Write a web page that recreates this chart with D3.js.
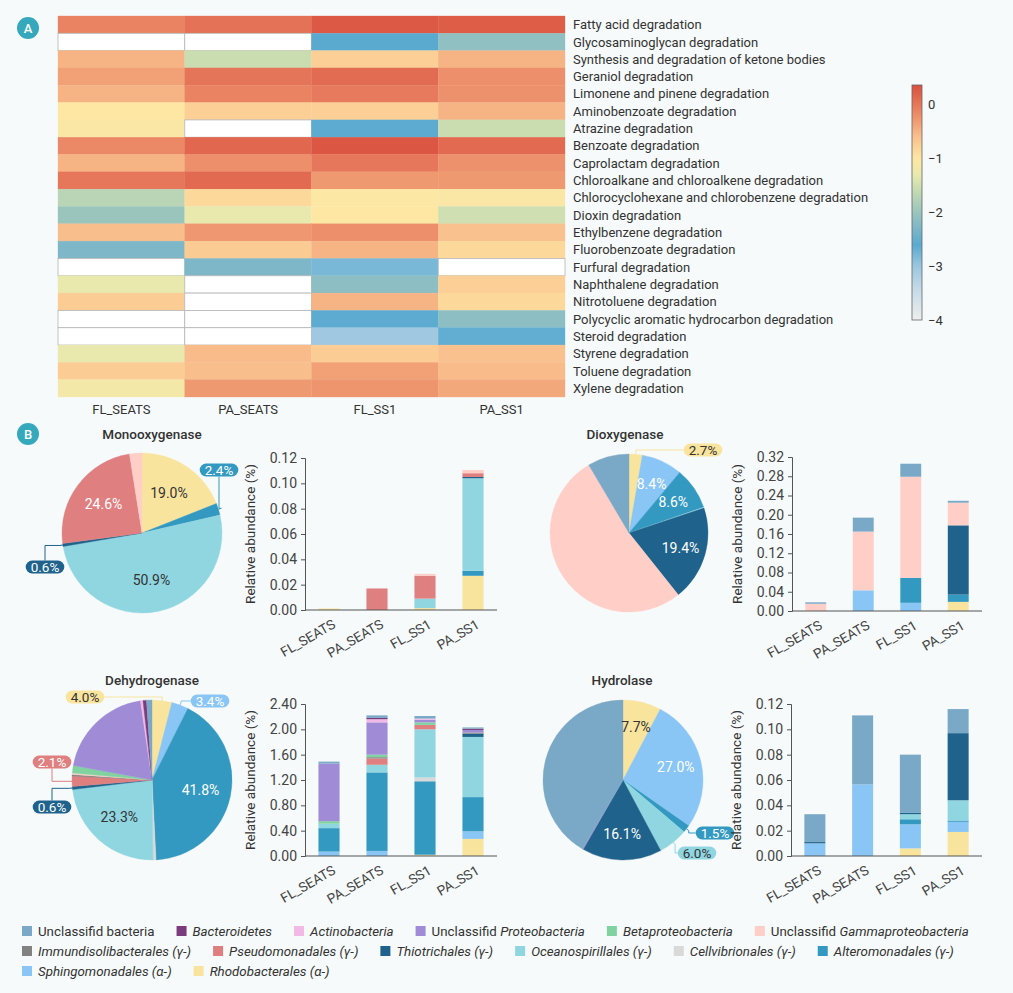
<!DOCTYPE html>
<html><head><meta charset="utf-8">
<script src="https://cdn.jsdelivr.net/npm/d3@7"></script>
<style>
html,body{margin:0;padding:0;background:#f6fafa;}
svg{display:block;font-family:Roboto,"Noto Sans",sans-serif;}
</style></head><body>
<svg id="c" width="1013" height="993"></svg>
<script>
// ---------------- DATA ----------------
const samples = ["FL_SEATS", "PA_SEATS", "FL_SS1", "PA_SS1"];
const pathways = [
  "Fatty acid degradation", "Glycosaminoglycan degradation", "Synthesis and degradation of ketone bodies",
  "Geraniol degradation", "Limonene and pinene degradation", "Aminobenzoate degradation",
  "Atrazine degradation", "Benzoate degradation", "Caprolactam degradation",
  "Chloroalkane and chloroalkene degradation", "Chlorocyclohexane and chlorobenzene degradation",
  "Dioxin degradation", "Ethylbenzene degradation", "Fluorobenzoate degradation",
  "Furfural degradation", "Naphthalene degradation", "Nitrotoluene degradation",
  "Polycyclic aromatic hydrocarbon degradation", "Steroid degradation", "Styrene degradation",
  "Toluene degradation", "Xylene degradation"
];
// log10 relative abundance per sample (null = not detected)
const heatFL_SEATS = [-0.1, null, -0.5, -0.35, -0.5, -1.0, -1.05, -0.15, -0.5, 0.0, -1.7, -2.0, -0.58, -2.3, null, -1.3, -0.72, null, null, -1.3, -0.72, -1.15];
const heatPA_SEATS = [0.05, null, -1.55, 0.02, -0.1, -0.75, null, 0.15, -0.2, 0.12, -0.85, -1.3, -0.27, -0.7, -2.3, null, null, null, null, -0.55, -0.58, -0.28];
const heatFL_SS1   = [0.28, -2.6, -0.75, 0.1, -0.02, -0.75, -2.62, 0.3, 0.0, -0.28, -1.02, -1.0, -0.2, -0.5, -2.8, -2.15, -0.5, -2.62, -3.05, -0.72, -0.35, -0.25];
const heatPA_SS1   = [0.25, -2.1, -0.5, -0.2, -0.22, -0.5, -1.55, 0.12, -0.22, -0.28, -1.05, -1.5, -0.6, -0.85, null, -0.75, -0.85, -2.15, -2.65, -0.6, -0.55, -0.4];
const colorbarTicks = [0, -1, -2, -3, -4];

const taxa = [
  "Unclassifid bacteria", "Bacteroidetes", "Actinobacteria", "Unclassifid Proteobacteria",
  "Betaproteobacteria", "Unclassifid Gammaproteobacteria", "Immundisolibacterales (γ-)",
  "Pseudomonadales (γ-)", "Thiotrichales (γ-)", "Oceanospirillales (γ-)", "Cellvibrionales (γ-)",
  "Alteromonadales (γ-)", "Sphingomonadales (α-)", "Rhodobacterales (α-)"
];

// pie shares (%) in taxa order
const monoShares  = [0, 0, 0, 0, 0, 2.5, 0, 24.6, 0.6, 50.9, 0, 2.4, 0, 19.0];
const dioxShares  = [8.5, 0, 0, 0, 0, 52.2, 0, 0, 19.4, 0.2, 0, 8.6, 8.4, 2.7];
const dehydShares = [1.1, 0.7, 0.5, 19.8, 1.5, 0.3, 0.3, 2.1, 0.6, 23.3, 0.6, 41.8, 3.4, 4.0];
const hydroShares = [41.5, 0, 0, 0.2, 0, 0, 0, 0, 16.1, 6.0, 0, 1.5, 27.0, 7.7];

// stacked bar values (relative abundance %), one row per sample, taxa order
const monoValues = [
  [0, 0, 0, 0, 0, 0, 0, 0, 0, 0, 0, 0, 0, 0.0012],
  [0, 0, 0, 0, 0, 0, 0, 0.017, 0, 0, 0, 0, 0, 0],
  [0, 0, 0, 0, 0, 0.0015, 0, 0.018, 0, 0.0075, 0, 0, 0, 0.0015],
  [0, 0, 0, 0, 0, 0.0025, 0, 0.003, 0.001, 0.073, 0, 0.004, 0, 0.027]
];
const dioxValues = [
  [0.003, 0, 0, 0, 0, 0.015, 0, 0, 0, 0, 0, 0, 0, 0],
  [0.029, 0, 0, 0, 0, 0.122, 0, 0, 0, 0, 0, 0, 0.043, 0],
  [0.027, 0, 0, 0, 0, 0.210, 0, 0, 0, 0, 0, 0.052, 0.017, 0],
  [0.004, 0, 0, 0, 0, 0.047, 0, 0, 0.144, 0, 0, 0.015, 0, 0.019]
];
const dehydValues = [
  [0.03, 0, 0, 0.91, 0.04, 0, 0, 0, 0, 0.07, 0, 0.37, 0.07, 0],
  [0.04, 0.02, 0.05, 0.51, 0.04, 0, 0.02, 0.10, 0, 0.12, 0, 1.24, 0.08, 0],
  [0.04, 0, 0.02, 0.04, 0.04, 0, 0, 0.07, 0, 0.76, 0.06, 1.16, 0, 0.02],
  [0.02, 0.02, 0, 0.04, 0, 0, 0.02, 0, 0.05, 0.95, 0, 0.54, 0.12, 0.27]
];
const hydroValues = [
  [0.022, 0, 0, 0, 0, 0, 0, 0, 0.001, 0, 0, 0, 0.010, 0],
  [0.0544, 0, 0, 0, 0, 0, 0, 0, 0, 0, 0, 0, 0.0566, 0],
  [0.046, 0, 0, 0, 0, 0, 0, 0, 0.001, 0.004, 0, 0.004, 0.019, 0.006],
  [0.019, 0, 0, 0, 0, 0, 0, 0, 0.053, 0.016, 0, 0.001, 0.008, 0.019]
];
const monoTicks  = [0, 0.02, 0.04, 0.06, 0.08, 0.10, 0.12];
const dioxTicks  = [0, 0.04, 0.08, 0.12, 0.16, 0.20, 0.24, 0.28, 0.32];
const dehydTicks = [0, 0.4, 0.8, 1.2, 1.6, 2.0, 2.4];
const hydroTicks = [0, 0.02, 0.04, 0.06, 0.08, 0.10, 0.12];

// ---------------- STYLE ----------------
const taxaColors = ["#79a9c7", "#7b3b7c", "#f2b9e6", "#a08bd7", "#80d3a1", "#fecec7", "#828282",
  "#e07f80", "#1f638c", "#90d6e1", "#d9d9d9", "#3399c1", "#89c5f5", "#f9e49e"];
const lightTaxa = new Set([2, 5, 9, 10, 13]);
const textDark = "#333";

const svg = d3.select("#c");
svg.append("rect").attr("width", 1013).attr("height", 993).attr("fill", "#f6fafa");

// panel letters
function letter(x, y, t) {
  svg.append("circle").attr("cx", x).attr("cy", y).attr("r", 11).attr("fill", "#35a9bb");
  svg.append("text").attr("x", x).attr("y", y).attr("dy", "0.36em").attr("text-anchor", "middle")
    .attr("fill", "#fff").attr("font-size", 13).attr("font-weight", 500).text(t);
}
letter(28, 28, "A");
letter(28, 434, "B");

// ---------------- HEATMAP ----------------
const heatCols = [heatFL_SEATS, heatPA_SEATS, heatFL_SS1, heatPA_SS1];
const hx = d3.scaleBand().domain(samples).range([58, 565]);
const hy = d3.scaleBand().domain(pathways).range([16, 397]);
const heatColor = d3.scaleLinear()
  .domain([-4, -3.4, -3, -2.6, -2.3, -2, -1.6, -1.3, -1, -0.6, -0.3, 0, 0.37])
  .range(["#eeeeee", "#c2d9e7", "#9bc6df", "#5aaad0", "#7db7c8", "#9ac5bd", "#c4dab2", "#e9e9ae",
          "#fee7a3", "#f9c18e", "#f09b72", "#e6775a", "#d9503e"])
  .clamp(true);

const hg = svg.append("g");
samples.forEach((s, ci) => {
  pathways.forEach((p, ri) => {
    const v = heatCols[ci][ri];
    hg.append("rect").attr("x", hx(s)).attr("y", hy(p))
      .attr("width", hx.bandwidth()).attr("height", hy.bandwidth())
      .attr("fill", v === null ? "#ffffff" : heatColor(v))
      .attr("stroke", v === null ? "#b5b5b5" : heatColor(v))
      .attr("stroke-width", v === null ? 0.8 : 0.3);
  });
});
hg.selectAll(".rl").data(pathways).enter().append("text")
  .attr("x", 573).attr("y", d => hy(d) + hy.bandwidth() / 2).attr("dy", "0.35em")
  .attr("font-size", 13).attr("fill", textDark).text(d => d);
hg.selectAll(".cl").data(samples).enter().append("text")
  .attr("x", d => hx(d) + hx.bandwidth() / 2).attr("y", 409).attr("dy", "0.35em")
  .attr("text-anchor", "middle").attr("font-size", 13).attr("fill", textDark).text(d => d);

// colorbar
const cbScale = d3.scaleLinear().domain([-4, 0.37]).range([320, 85]);
const defs = svg.append("defs");
const grad = defs.append("linearGradient").attr("id", "cbg").attr("x1", 0).attr("y1", 1).attr("x2", 0).attr("y2", 0);
d3.range(0, 1.0001, 0.02).forEach(t => {
  const v = -4 + t * 4.37;
  grad.append("stop").attr("offset", t).attr("stop-color", heatColor(v));
});
svg.append("rect").attr("x", 912).attr("y", 85).attr("width", 10).attr("height", 235)
  .attr("fill", "url(#cbg)").attr("stroke", "#666").attr("stroke-width", 0.8);
svg.selectAll(".cbt").data(colorbarTicks).enter().append("text")
  .attr("x", 928).attr("y", d => cbScale(d)).attr("dy", "0.35em")
  .attr("font-size", 13).attr("fill", textDark)
  .text(d => d === 0 ? "0" : "\u2212" + Math.abs(d));

// ---------------- PIES ----------------
function drawPie(cfg) {
  const g = svg.append("g");
  const items = cfg.shares.map((v, i) => ({ i, v })).reverse().filter(d => d.v > 0);
  const arcs = d3.pie().sort(null).value(d => d.v)(items);
  const arc = d3.arc().innerRadius(0).outerRadius(cfg.r);
  const lab = d3.arc().innerRadius(cfg.r * cfg.lr).outerRadius(cfg.r * cfg.lr);
  g.selectAll("path").data(arcs).enter().append("path")
    .attr("transform", `translate(${cfg.cx},${cfg.cy})`)
    .attr("d", arc).attr("fill", d => taxaColors[d.data.i])
    .attr("stroke", d => taxaColors[d.data.i]).attr("stroke-width", 0.4);
  // title
  svg.append("text").attr("x", cfg.tx).attr("y", cfg.ty).attr("text-anchor", "middle")
    .attr("font-size", 13.5).attr("font-weight", 500).attr("fill", textDark).text(cfg.title);
  // inside labels
  arcs.filter(d => cfg.inside.includes(d.data.i)).forEach(d => {
    const c = lab.centroid(d);
    g.append("text").attr("x", cfg.cx + c[0]).attr("y", cfg.cy + c[1]).attr("dy", "0.35em")
      .attr("text-anchor", "middle").attr("font-size", 14)
      .attr("fill", lightTaxa.has(d.data.i) ? textDark : "#fff")
      .text(d.data.v.toFixed(1) + "%");
  });
  // badges
  cfg.badges.forEach(b => {
    const d = arcs.find(a => a.data.i === b.i);
    const a = (d.startAngle + d.endAngle) / 2;
    const p0 = [cfg.cx + cfg.r * Math.sin(a), cfg.cy - cfg.r * Math.cos(a)];
    const p1 = [cfg.cx + (cfg.r + 3) * Math.sin(a), cfg.cy - (cfg.r + 3) * Math.cos(a)];
    const col = taxaColors[b.i];
    const txt = d.data.v.toFixed(1) + "%";
    const t = g.append("text").attr("x", b.bx).attr("y", b.by).attr("dy", "0.36em")
      .attr("text-anchor", "middle").attr("font-size", 13.5)
      .attr("fill", lightTaxa.has(b.i) ? textDark : "#fff").text(txt);
    const w = t.node().getComputedTextLength() + 10, h = 13;
    let pts;
    if (b.route === "vh") {
      const ex = b.bx > p1[0] ? b.bx - w / 2 : b.bx + w / 2;
      pts = [p0, p1, [p1[0], b.by], [ex, b.by]];
    } else {
      const ey = b.by < p1[1] ? b.by + h / 2 : b.by - h / 2;
      pts = [p0, p1, [b.bx, p1[1]], [b.bx, ey]];
    }
    g.insert("path", "text").attr("d", d3.line()(pts)).attr("fill", "none")
      .attr("stroke", col).attr("stroke-width", 1);
    g.insert("rect", "text").attr("x", b.bx - w / 2).attr("y", b.by - h / 2)
      .attr("width", w).attr("height", h).attr("rx", h / 2).attr("fill", col);
  });
}

drawPie({ cx: 142, cy: 533, r: 80, lr: 0.6, title: "Monooxygenase", tx: 152, ty: 439,
  shares: monoShares, inside: [13, 9, 7],
  badges: [{ i: 11, bx: 219, by: 470, route: "hv" }, { i: 8, bx: 45, by: 567, route: "hv" }] });
drawPie({ cx: 629, cy: 533, r: 79, lr: 0.68, title: "Dioxygenase", tx: 625, ty: 439,
  shares: dioxShares, inside: [12, 11, 8],
  badges: [{ i: 13, bx: 703, by: 450, route: "vh" }] });
drawPie({ cx: 152, cy: 780, r: 80, lr: 0.62, title: "Dehydrogenase", tx: 152, ty: 685,
  shares: dehydShares, inside: [11, 9],
  badges: [{ i: 13, bx: 85, by: 697, route: "vh" }, { i: 12, bx: 210, by: 701, route: "vh" },
           { i: 7, bx: 52, by: 762, route: "hv" }, { i: 8, bx: 52, by: 807, route: "hv" }] });
drawPie({ cx: 623, cy: 780, r: 80, lr: 0.68, title: "Hydrolase", tx: 622, ty: 685,
  shares: hydroShares, inside: [13, 12, 8],
  badges: [{ i: 11, bx: 715, by: 833, route: "vh" }, { i: 9, bx: 697, by: 853, route: "vh" }] });

// ---------------- BARS ----------------
function drawBars(cfg) {
  const g = svg.append("g");
  const x = d3.scaleBand().domain(samples).range([cfg.x0, cfg.x1]).paddingInner(0.56).paddingOuter(0.28);
  const y = d3.scaleLinear().domain([0, cfg.ticks[cfg.ticks.length - 1]]).range([cfg.y0, cfg.y1]);
  samples.forEach((s, si) => {
    let acc = 0;
    for (let i = taxa.length - 1; i >= 0; i--) {
      const v = cfg.values[si][i];
      if (v <= 0) continue;
      g.append("rect").attr("x", x(s)).attr("width", x.bandwidth())
        .attr("y", y(acc + v)).attr("height", y(acc) - y(acc + v))
        .attr("fill", taxaColors[i]);
      acc += v;
    }
  });
  const ya = g.append("g").attr("transform", `translate(${cfg.x0},0)`)
    .call(d3.axisLeft(y).tickValues(cfg.ticks).tickFormat(d3.format(".2f")).tickSize(4).tickPadding(4));
  ya.select(".domain").attr("stroke", "#555");
  ya.selectAll(".tick line").attr("stroke", "#555");
  ya.selectAll("text").attr("font-size", 14).attr("fill", "#444").attr("font-family", "Roboto,sans-serif");
  g.append("line").attr("x1", cfg.x0).attr("x2", cfg.x1).attr("y1", cfg.y0).attr("y2", cfg.y0)
    .attr("stroke", "#555").attr("stroke-width", 1);
  g.selectAll(".xl").data(samples).enter().append("text")
    .attr("transform", d => `translate(${x(d) + x.bandwidth() / 2 + 5},${cfg.y0 + 13}) rotate(-30)`)
    .attr("text-anchor", "end").attr("dy", "0.35em").attr("font-size", 13.5).attr("fill", "#444").text(d => d);
  g.append("text").attr("transform", `translate(${cfg.x0 - 50},${(cfg.y0 + cfg.y1) / 2}) rotate(-90)`)
    .attr("text-anchor", "middle").attr("font-size", 13.5).attr("fill", textDark).text("Relative abundance (%)");
}
drawBars({ x0: 305, x1: 497, y0: 610, y1: 458, ticks: monoTicks, values: monoValues });
drawBars({ x0: 792, x1: 982, y0: 611, y1: 457, ticks: dioxTicks, values: dioxValues });
drawBars({ x0: 305, x1: 497, y0: 856, y1: 704, ticks: dehydTicks, values: dehydValues });
drawBars({ x0: 791, x1: 982, y0: 856, y1: 704, ticks: hydroTicks, values: hydroValues });

// ---------------- LEGEND ----------------
const legRows = [[0, 1, 2, 3, 4, 5], [6, 7, 8, 9, 10, 11], [12, 13]];
const legY = [931, 951, 971];
legRows.forEach((row, ri) => {
  let xx = 22;
  row.forEach(i => {
    const name = taxa[i];
    svg.append("rect").attr("x", xx).attr("y", legY[ri] - 5).attr("width", 10).attr("height", 10)
      .attr("fill", taxaColors[i]);
    const t = svg.append("text").attr("x", xx + 16).attr("y", legY[ri]).attr("dy", "0.35em")
      .attr("font-size", 13.3).attr("fill", textDark);
    if (name === "Unclassifid bacteria") {
      t.text(name);
    } else if (name.startsWith("Unclassifid ")) {
      t.append("tspan").text("Unclassifid ");
      t.append("tspan").attr("font-style", "italic").text(name.slice(12));
    } else {
      t.append("tspan").attr("font-style", "italic").text(name);
    }
    xx += 16 + t.node().getComputedTextLength() + 22;
  });
});
</script>
</body></html>
